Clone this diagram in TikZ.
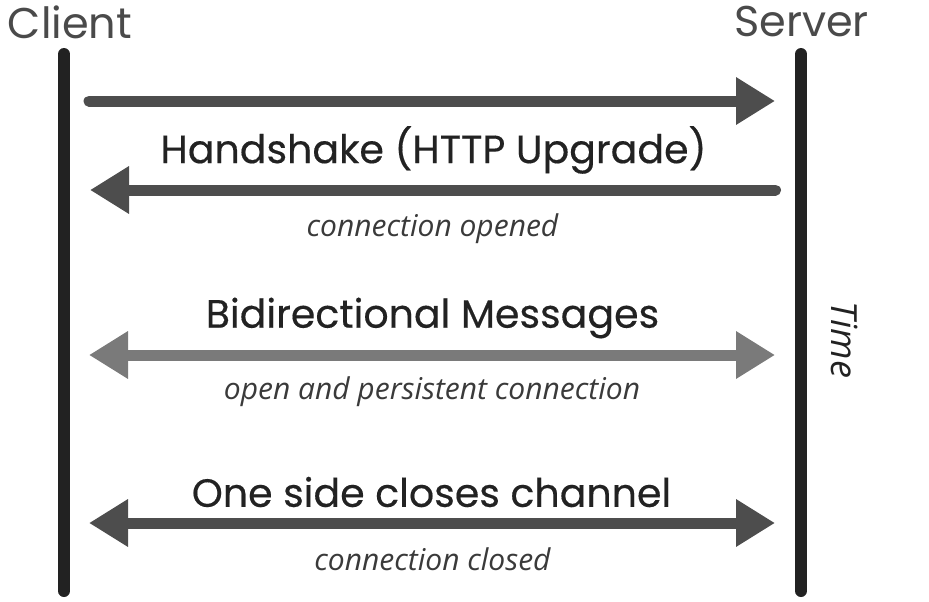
\documentclass[tikz,border=0pt]{standalone}
\usepackage{fontspec}
\setmainfont{Poppins}
\newfontfamily\labelfont{Poppins}[FakeBold=0.35]
\newfontfamily\notefont{Open Sans}
\usetikzlibrary{arrows.meta}

\definecolor{linegray}{HTML}{222222}
\definecolor{msgdark}{HTML}{4D4D4D}
\definecolor{msglight}{HTML}{7A7A7A}
\definecolor{headgray}{HTML}{4A4A4A}
\definecolor{textgray}{HTML}{222222}
\definecolor{notegray}{HTML}{3A3A3A}

\tikzset{
  lifeline/.style={line width=12pt,color=linegray,line cap=round},
  msg/.style={line width=11pt,color=msgdark,line cap=round},
  tip/.style={-{Triangle[length=39pt,width=45pt]}},
  bitip/.style={{Triangle[length=39pt,width=45pt]}-{Triangle[length=39pt,width=45pt]}},
  party/.style={font=\fontsize{43}{46}\selectfont,text=headgray,inner sep=0pt},
  msglabel/.style={font=\labelfont\fontsize{39.5}{42}\selectfont,text=textgray,inner sep=0pt},
  note/.style={font=\notefont\itshape\fontsize{30}{33}\selectfont,text=notegray,inner sep=0pt}
}

\begin{document}
\begin{tikzpicture}[x=1pt,y=-1pt]
        \useasboundingbox (0,0) rectangle (929,602);
        % parties
        \node[party] (client) at (70,22) {Client};
        \node[party] (server) at (801.5,22) {Server};
        \coordinate (clienttop) at (64,54);
        \coordinate (clientbot) at (64,591);
        \coordinate (servertop) at (801,54);
        \coordinate (serverbot) at (801,591);
        \draw[lifeline] (clienttop)--(clientbot);
        \draw[lifeline] (servertop)--(serverbot);
        % handshake
        \coordinate (c1) at (89,101);
        \coordinate (s1) at (775,101);
        \coordinate (s2) at (775.5,190);
        \coordinate (c2) at (90,190);
        \draw[msg,tip] (c1)--(s1);
        \node[msglabel] (handshake) at (433.5,150) {Handshake (HTTP Upgrade)};
        \draw[msg,tip] (s2)--(c2);
        \node[note] (opened) at (432.5,229) {connection opened};
        % messages
        \coordinate (c3) at (89,355);
        \coordinate (s3) at (775,355);
        \node[msglabel] (bidir) at (432.5,318) {Bidirectional Messages};
        \draw[msg,bitip,color=msglight] (c3)--(s3);
        \node[note] (persist) at (432,392) {open and persistent connection};
        % closing
        \coordinate (c4) at (89,523);
        \coordinate (s4) at (775,523);
        \node[msglabel] (closes) at (431.5,492) {One side closes channel};
        \draw[msg,bitip] (c4)--(s4);
        \node[note] (closed) at (432.5,559) {connection closed};
        % time axis
        \node[note,rotate=-90,font=\notefont\itshape\fontsize{36}{40}\selectfont,text=textgray] (time) at (845,340) {Time};
      \end{tikzpicture}
\end{document}
